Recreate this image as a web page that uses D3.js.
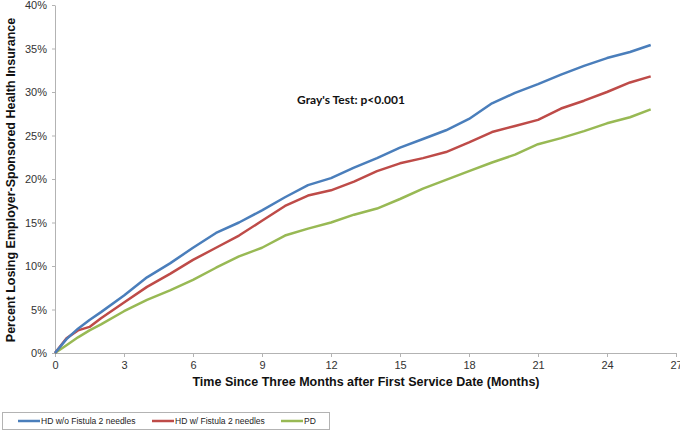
<!DOCTYPE html>
<html>
<head>
<meta charset="utf-8">
<script src="https://cdn.jsdelivr.net/npm/d3@7"></script>
<style>
  body { margin: 0; background: #fff; }
  svg { display: block; font-family: "Liberation Sans", Arial, sans-serif; }
</style>
</head>
<body>
<div class="canvas"></div>
<script>
// what to show
var months = [0, 0.5, 1, 1.5, 2, 3, 4, 5, 6, 7, 8, 9, 10, 11, 12, 13, 14, 15, 16, 17, 18, 19, 20, 21, 22, 23, 24, 25, 25.9];

var hdNoFistula = [0, 1.6, 2.8, 3.8, 4.7, 6.6, 8.7, 10.3, 12.1, 13.8, 15.0, 16.4, 17.9, 19.3, 20.1, 21.3, 22.4, 23.6, 24.6, 25.6, 26.9, 28.7, 29.9, 30.9, 32.0, 33.0, 33.9, 34.6, 35.4];
var hdFistula = [0, 1.7, 2.6, 3.0, 4.0, 5.8, 7.6, 9.1, 10.7, 12.1, 13.5, 15.2, 16.9, 18.1, 18.7, 19.7, 20.9, 21.8, 22.4, 23.1, 24.2, 25.4, 26.1, 26.8, 28.1, 29.0, 30.0, 31.1, 31.8];
var pd = [0, 0.9, 1.8, 2.6, 3.3, 4.8, 6.1, 7.2, 8.4, 9.8, 11.1, 12.1, 13.5, 14.3, 15.0, 15.9, 16.6, 17.7, 18.9, 19.9, 20.9, 21.9, 22.8, 24.0, 24.7, 25.5, 26.4, 27.1, 28.0];

var seriesNames = ['HD w/o Fistula 2 needles', 'HD w/ Fistula 2 needles', 'PD'];
var seriesColors = ['#4a7ebb', '#be4b48', '#98b954'];
var xTicks = [0, 3, 6, 9, 12, 15, 18, 21, 24, 27];
var yTicks = [0, 5, 10, 15, 20, 25, 30, 35, 40];

var series = [hdNoFistula, hdFistula, pd].map(function (vals, i) {
    return {
        name: seriesNames[i],
        color: seriesColors[i],
        points: vals.map(function (v, j) { return { t: months[j], v: v }; })
    };
});

// where does it live
var width = 680,
    height = 431,
    plot = { left: 55, right: 676, top: 5, bottom: 353 };

var svg = d3.select('.canvas').append('svg')
    .attr('width', width)
    .attr('height', height);

var x = d3.scaleLinear().domain([0, 27]).range([plot.left, plot.right]);
var y = d3.scaleLinear().domain([0, 40]).range([plot.bottom, plot.top]);

// axes
var xAxis = svg.append('g')
    .attr('transform', 'translate(0,' + plot.bottom + ')')
    .call(d3.axisBottom(x).tickValues(xTicks).tickSize(4).tickSizeOuter(0).tickPadding(4));

var yAxis = svg.append('g')
    .attr('transform', 'translate(' + plot.left + ',0)')
    .call(d3.axisLeft(y).tickValues(yTicks).tickSize(3).tickSizeOuter(0).tickPadding(5)
        .tickFormat(function (d) { return d + '%'; }));

[xAxis, yAxis].forEach(function (a) {
    a.select('.domain').attr('stroke', '#b3b3b3').attr('stroke-width', 1);
    a.selectAll('.tick line').attr('stroke', '#b3b3b3');
    a.selectAll('.tick text')
        .attr('fill', '#333')
        .style('font-size', '11px')
        .style('font-family', '"Liberation Sans", Arial, sans-serif');
});

// lines
var line = d3.line()
    .x(function (d) { return x(d.t); })
    .y(function (d) { return y(d.v); });

svg.append('g').selectAll('path')
    .data(series.slice().reverse())
    .enter()
    .append('path')
    .attr('d', function (d) { return line(d.points); })
    .attr('fill', 'none')
    .attr('stroke', function (d) { return d.color; })
    .attr('stroke-width', 2.5)
    .attr('stroke-linejoin', 'round');

// titles
svg.append('text')
    .attr('x', 366)
    .attr('y', 386)
    .attr('text-anchor', 'middle')
    .style('font-size', '12.5px')
    .style('font-weight', 'bold')
    .attr('fill', '#111')
    .text('Time Since Three Months after First Service Date (Months)');

svg.append('text')
    .attr('transform', 'translate(15,180) rotate(-90)')
    .attr('text-anchor', 'middle')
    .style('font-size', '12.5px')
    .style('font-weight', 'bold')
    .attr('fill', '#111')
    .text('Percent Losing Employer-Sponsored Health Insurance');

svg.append('text')
    .attr('x', 351)
    .attr('y', 104)
    .attr('text-anchor', 'middle')
    .style('font-family', 'Lato, "Open Sans", sans-serif')
    .style('font-size', '12px')
    .style('font-weight', 'bold')
    .attr('fill', '#111')
    .text("Gray's Test: p<0.001");

// legend
var legend = svg.append('g');
legend.append('rect')
    .attr('x', 2.5).attr('y', 412.5)
    .attr('width', 327).attr('height', 17)
    .attr('fill', '#fff')
    .attr('stroke', '#b3b3b3');

var legendX = [18, 152, 281];
var items = legend.selectAll('g.item')
    .data(series)
    .enter()
    .append('g')
    .attr('class', 'item')
    .attr('transform', function (d, i) { return 'translate(' + legendX[i] + ',421)'; });

items.append('line')
    .attr('x1', 0).attr('x2', 22)
    .attr('stroke', function (d) { return d.color; })
    .attr('stroke-width', 2.5);

items.append('text')
    .attr('x', 23)
    .attr('dy', '0.35em')
    .style('font-size', '8.5px')
    .attr('fill', '#222')
    .text(function (d) { return d.name; });
</script>
</body>
</html>
